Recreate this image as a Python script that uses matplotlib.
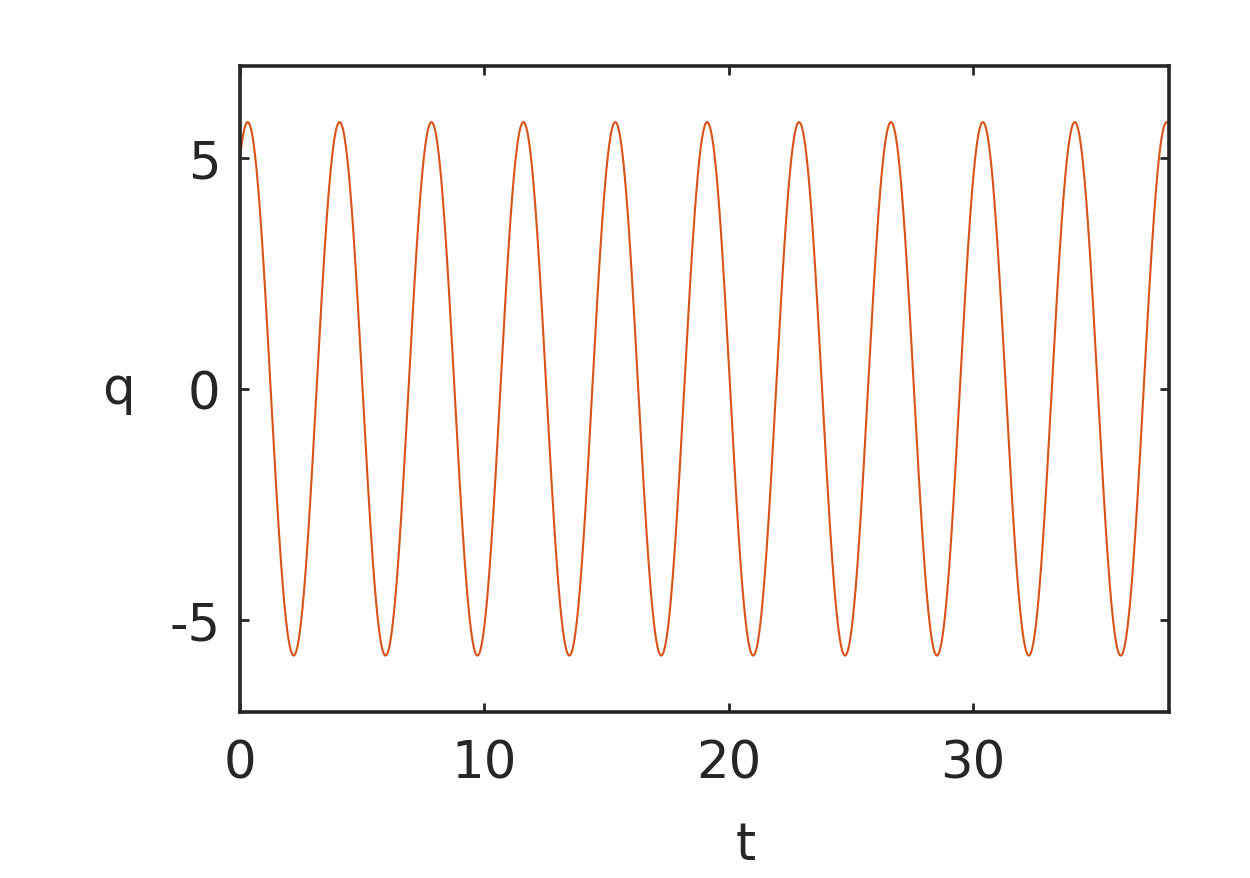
#!/usr/bin/env python3

# plot.py - oscillator trajectory q(t)

import numpy as np
import matplotlib
matplotlib.use("Agg")
import matplotlib.pyplot as plt

# values
q0 = 5.0           # q at t = 0
amplitude = 5.78   # height of the peaks
period = 3.76      # time between peaks
t_end = 38.0       # last time in the plot
x_ticks = [0, 10, 20, 30]
y_ticks = [-5, 0, 5]
y_limits = [-7, 7]

LINE_COLOR = "#D95319"
AX_COLOR = "#262626"
FONT_SIZE = 37

omega = 2 * np.pi / period
phase = np.arccos(q0 / amplitude)
t = np.linspace(0, t_end, 4000)
q = amplitude * np.cos(omega * t - phase)

fig = plt.figure(figsize=(12.5, 8.79), dpi=100)
ax = fig.add_axes([0.192, 0.189, 0.743, 0.735])
ax.plot(t, q, color=LINE_COLOR, linewidth=1.5)

ax.set_xlim(0, t_end)
ax.set_ylim(*y_limits)
ax.set_xticks(x_ticks)
ax.set_yticks(y_ticks)
ax.set_yticklabels([str(v) for v in y_ticks])

for side in ax.spines.values():
    side.set_linewidth(2.6)
    side.set_color(AX_COLOR)
ax.tick_params(direction="in", length=6.5, width=2, colors=AX_COLOR,
               labelsize=FONT_SIZE, top=True, right=True)
ax.tick_params(axis="x", pad=19)
ax.tick_params(axis="y", pad=14)

ax.set_xlabel("t", fontsize=FONT_SIZE, color=AX_COLOR)
ax.xaxis.set_label_coords(0.544, -0.168)
ax.set_ylabel("q", fontsize=FONT_SIZE, color=AX_COLOR, rotation=0, va="center")
ax.yaxis.set_label_coords(-0.131, 0.5)

fig.savefig("out.png", dpi=100)
